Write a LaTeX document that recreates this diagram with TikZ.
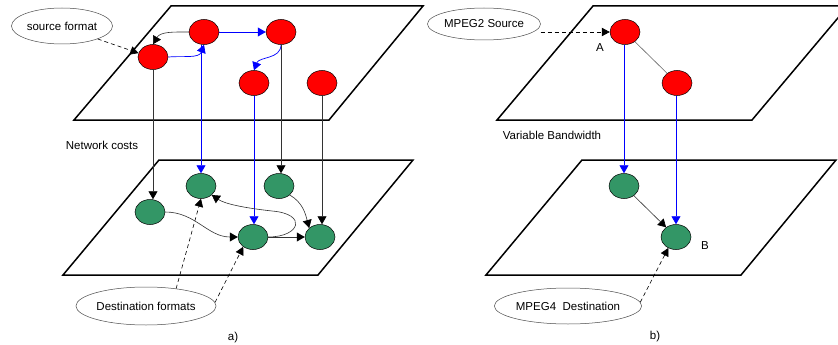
\documentclass[tikz,border=0pt]{standalone}
\usepackage{fontspec}
\setmainfont{Liberation Sans}
\usetikzlibrary{arrows.meta,shapes.geometric}
\definecolor{redn}{RGB}{255,0,0}
\definecolor{greenn}{RGB}{51,150,102}
\tikzset{
  plane/.style={line width=1.5pt},
  rednode/.style={ellipse,draw=black,line width=0.5pt,fill=redn,minimum width=30pt,minimum height=25pt,inner sep=0pt},
  greennode/.style={ellipse,draw=black,line width=0.5pt,fill=greenn,minimum width=30pt,minimum height=25pt,inner sep=0pt},
  callout/.style={ellipse,draw=black!70,line width=0.5pt,inner sep=0pt,font=\fontsize{11.5pt}{13pt}\selectfont},
  lbl/.style={inner sep=0pt,font=\fontsize{11.5pt}{13pt}\selectfont},
  tip/.style={-{Triangle[length=8pt,width=9pt,color=black]}},
  blk/.style={draw=black!80,line width=0.6pt},
  blu/.style={draw=blue,line width=0.7pt,-{Triangle[length=8pt,width=9pt,color=blue]}},
  dsh/.style={draw=black,line width=0.6pt,dash pattern=on 4pt off 3pt,-{Triangle[length=8pt,width=8.5pt]}}
}
\begin{document}
\begin{tikzpicture}[x=1pt,y=-1pt]
\clip (0,0) rectangle (838,345);
\fill[white] (0,0) rectangle (838,345);
% planes
\draw[plane] (171,6) -- (423,6) -- (329,120) -- (74,120) -- cycle;
\draw[plane] (159,160) -- (413,160) -- (318,275) -- (63,275) -- cycle;
\draw[plane] (593,6) -- (848,6) -- (752,120) -- (497,120) -- cycle;
\draw[plane] (582,160) -- (836,160) -- (741,275) -- (486,275) -- cycle;

% left panel nodes
\node[rednode] (n1) at (153,57) {};
\node[rednode] (n2) at (204,32) {};
\node[rednode] (n3) at (281,32) {};
\node[rednode] (n4) at (254,83) {};
\node[rednode] (n5) at (322,83) {};
\node[greennode] (g1) at (150,212) {};
\node[greennode] (g2) at (201,186) {};
\node[greennode] (g3) at (279,186) {};
\node[greennode] (g4) at (253,237) {};
\node[greennode] (g5) at (320,237) {};

% top layer edges
\draw[blk,tip] (n2.west) to[out=180,in=60] (n1.north);
\draw[blu] (n1.east) to[out=5,in=-110] (n2.south);
\draw[blu] (n2.east) -- (n3.west);
\draw[blu] (n3.south) to[out=-90,in=70] (n4.north);

% verticals
\draw[blk,tip] (n1.south) -- (n1.south |- g1.north);
\draw[blu] (n2.south -| g2.north) -- (g2.north);
\draw[blk,tip] (n3.south) -- (n3.south |- g3.north);
\draw[blu] (n4.south) -- (n4.south |- g4.north);
\draw[blk,tip] (n5.south) -- (n5.south |- g5.north);

% bottom layer edges
\draw[blk,tip] (g1.east) to[out=0,in=180] (g4.west);
\draw[blk,tip] (g4.east) -- (g5.west);
\draw[blk,tip] (g3.south east) to[out=-30,in=105] (g5.north west);
\draw[blk,tip] (g4.east) .. controls (300,237) and (308,214) .. (272,211) .. controls (245,208) and (225,204) .. (g2.south east);

% callouts left
\node[callout,minimum width=101pt,minimum height=36pt] (sf) at (62,26) {source format};
\node[callout,minimum width=139pt,minimum height=38pt] (df) at (146,306) {Destination formats};
\draw[dsh] (sf.-20) -- (n1.165);
\draw[dsh] (df.30) -- (g2.south);
\draw[dsh] (df.3) -- (g4.-135);
\node[lbl] (nc) at (102,145) {Network costs};
\node[lbl] (la) at (233,338) {a)};

% right panel
\node[rednode] (r1) at (625,32) {};
\node[rednode] (r2) at (677,83) {};
\node[greennode] (h1) at (624,186) {};
\node[greennode] (h2) at (676,237) {};
\draw[draw=black!60,line width=0.6pt] (r1) -- (r2);
\draw[blu] (r1.south -| h1.north) -- (h1.north);
\draw[blu] (r2.south -| h2.north) -- (h2.north);
\draw[blk,tip] (h1) -- (h2);
\node[callout,minimum width=102pt,minimum height=32pt] (m2) at (484,24) {MPEG2 Source};
\node[callout,minimum width=141pt,minimum height=36pt] (m4) at (568,306) {MPEG4\ \ Destination};
\draw[dsh] (m2.east |- r1.west) -- (r1.west);
\draw[dsh] (m4.3) -- (h2.-125);
\node[lbl] (lA) at (600,48) {A};
\node[lbl] (lB) at (705,246) {B};
\node[lbl] (vb) at (552,135) {Variable Bandwidth};
\node[lbl] (lb) at (655,337) {b)};
\end{tikzpicture}
\end{document}
